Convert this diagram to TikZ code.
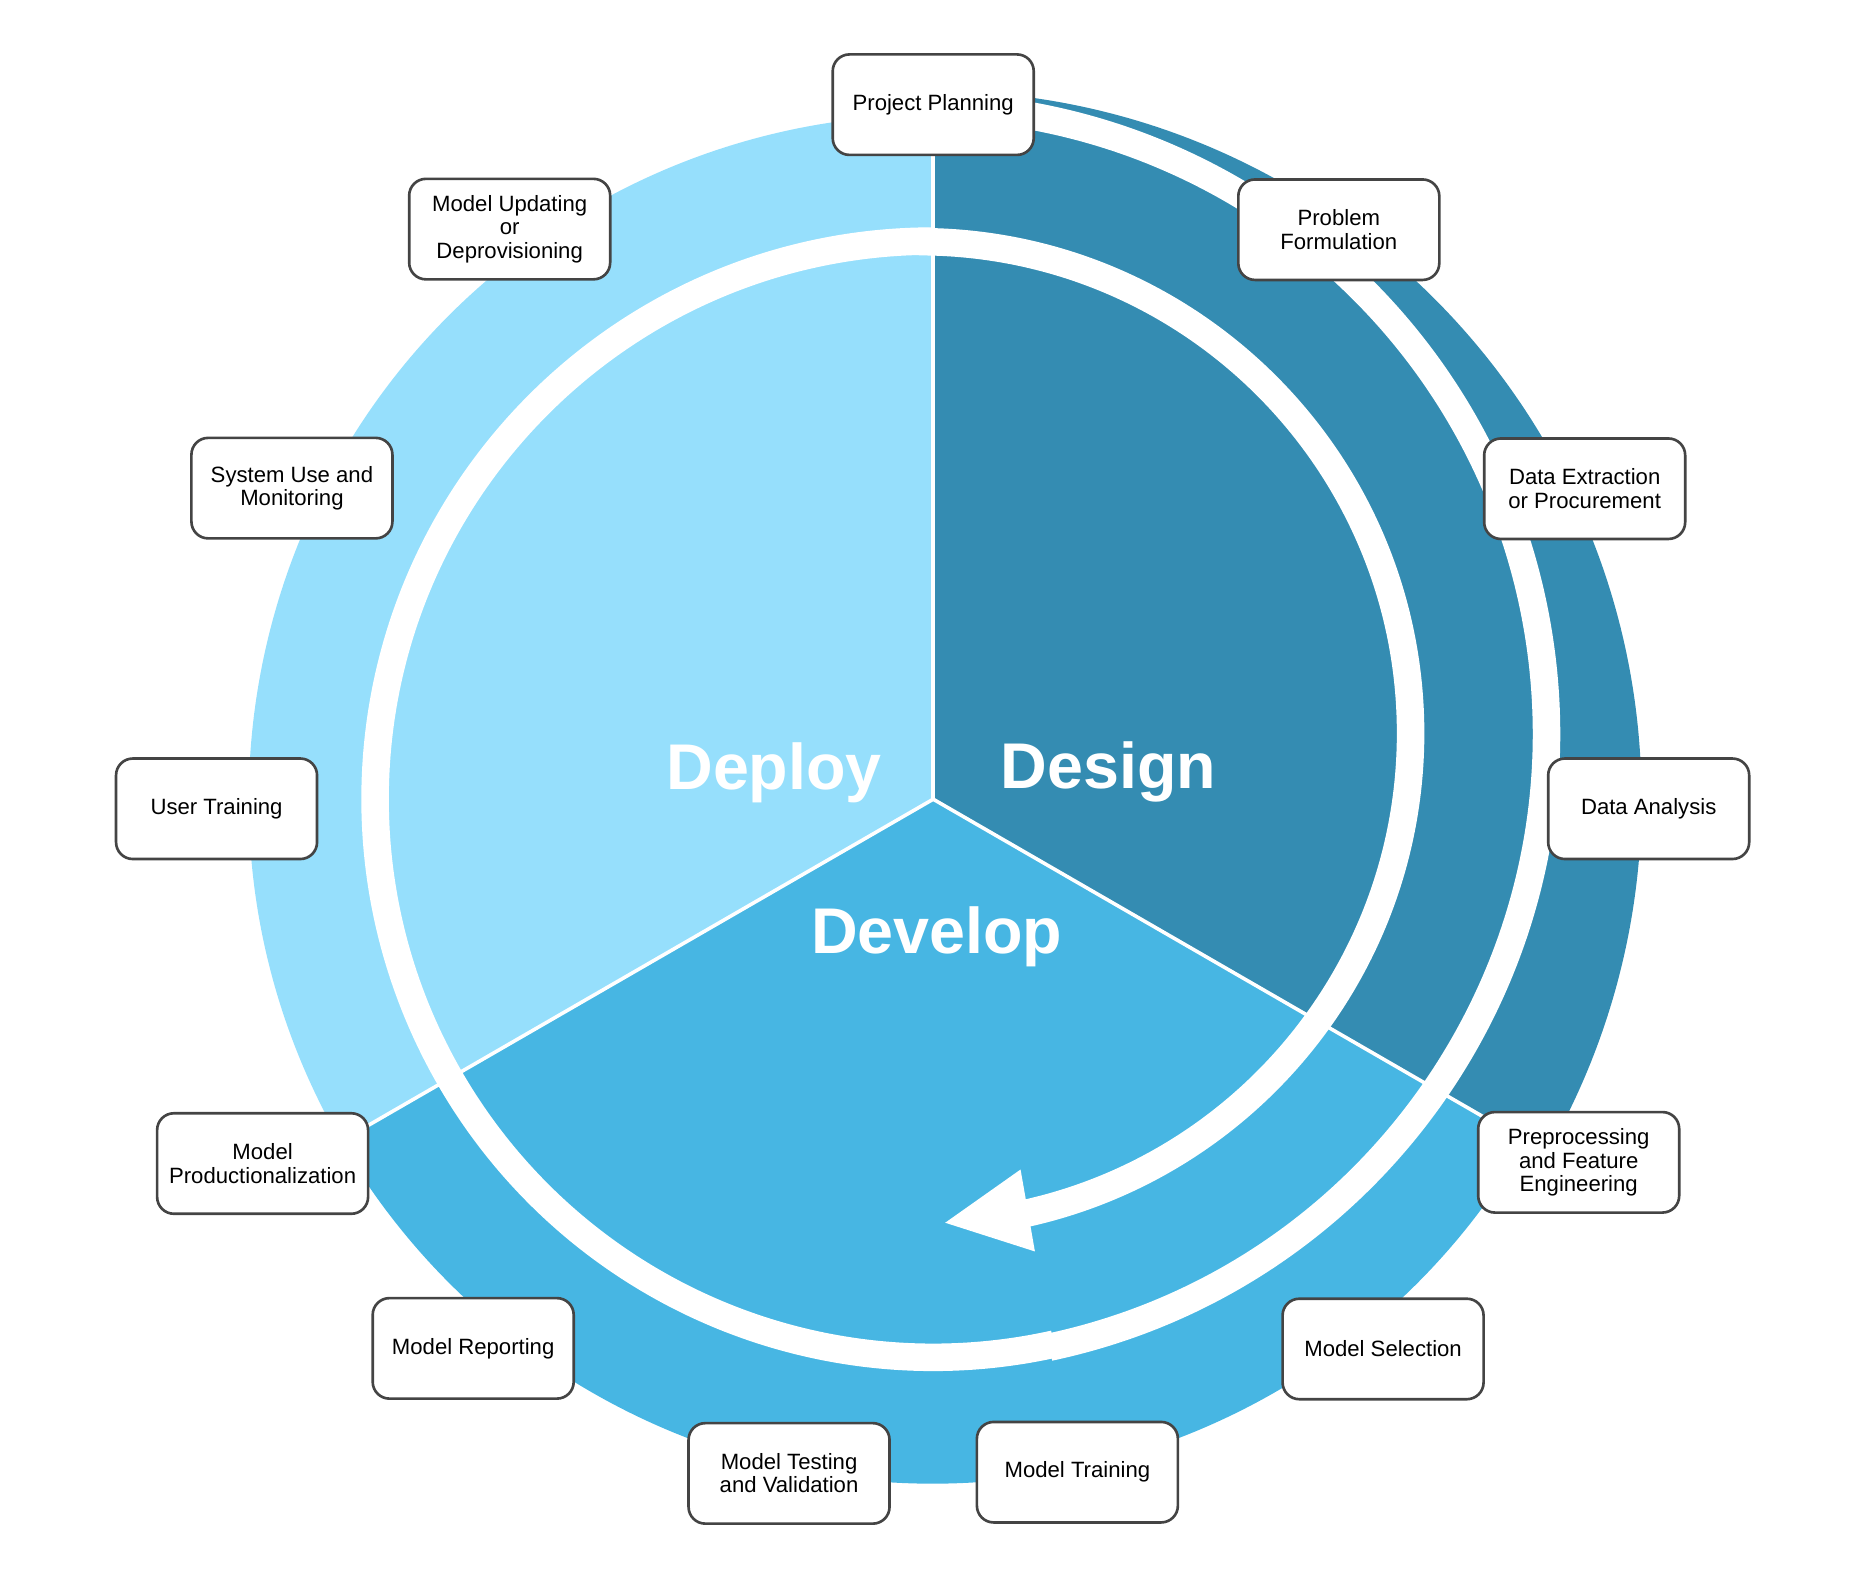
\documentclass[tikz,border=0pt]{standalone}
\usepackage{fontspec}
\setmainfont{Liberation Sans}
\definecolor{designc}{RGB}{52,140,178}
\definecolor{developc}{RGB}{71,182,227}
\definecolor{deployc}{RGB}{150,223,252}
\definecolor{boxline}{RGB}{68,68,68}

\begin{document}
\begin{tikzpicture}[x=1pt,y=1pt,line join=round,
    stage/.style={draw=boxline,line width=2.2pt,fill=white,rounded corners=14pt,
      minimum width=168pt,minimum height=84pt,inner xsep=10pt,align=center,
      font=\fontsize{18.5}{19.5}\selectfont},
    phase/.style={text=white,anchor=base,font=\fontsize{54}{60}\selectfont\bfseries},
    band/.style={white,line width=23pt},
    cut/.style={white,line width=3pt}]
      \useasboundingbox (0,0) rectangle (1568,1317);
      \coordinate (c) at (780,649);
      \coordinate (a) at (768,704);
      \fill[designc]  (c) -- ++(90:592)  arc[start angle=90,end angle=-30,radius=592]   -- cycle;
      \fill[developc] (c) -- ++(-30:572) arc[start angle=-30,end angle=-150,radius=572] -- cycle;
      \fill[deployc]  (c) -- ++(210:572) arc[start angle=210,end angle=90,radius=572]   -- cycle;
      \draw[cut] (c) -- ++(90:592);
      \draw[cut] (c) -- ++(-30:592);
      \draw[cut] (c) -- ++(210:572);
      \draw[band] (c) ++(90:466.5)  arc[start angle=90,end angle=282.5,radius=466.5];
      \draw[band] (a) ++(-78:524.5) arc[start angle=-78,end angle=90,radius=524.5];
      \draw[band] (a) ++(90:411)    arc[start angle=90,end angle=-78,radius=411];
      \fill[white] (790,295) -- (853,339.5) -- (865,271) -- cycle;
      \node[phase] (design)  at (926.5,658) {Design};
      \node[phase] (deploy)  at (647,657)   {Deploy};
      \node[phase] (develop) at (783,520)   {Develop};
      \node[stage] (plan)    at ( 780,1229.5) {Project Planning};
      \node[stage] (problem) at (1119,1125)   {Problem\\Formulation};
      \node[stage] (extract) at (1324.5,908.5) {Data Extraction\\or Procurement};
      \node[stage] (analyse) at (1378,641)    {Data Analysis};
      \node[stage] (prep)    at (1319.5,345.5) {Preprocessing\\and Feature\\Engineering};
      \node[stage] (select)  at (1156,189.5)  {Model Selection};
      \node[stage] (train)   at ( 900.5,86.5) {Model Training};
      \node[stage] (test)    at ( 659.5,85.5) {Model Testing\\and Validation};
      \node[stage] (report)  at ( 395.5,190)  {Model Reporting};
      \node[stage] (prod)    at ( 219.5,344.5) {Model\\Productionalization};
      \node[stage] (usert)   at ( 181,641)    {User Training};
      \node[stage] (monitor) at ( 244,909)    {System Use and\\Monitoring};
      \node[stage] (update)  at ( 426,1125.5) {Model Updating\\or\\Deprovisioning};
    \end{tikzpicture}
\end{document}
